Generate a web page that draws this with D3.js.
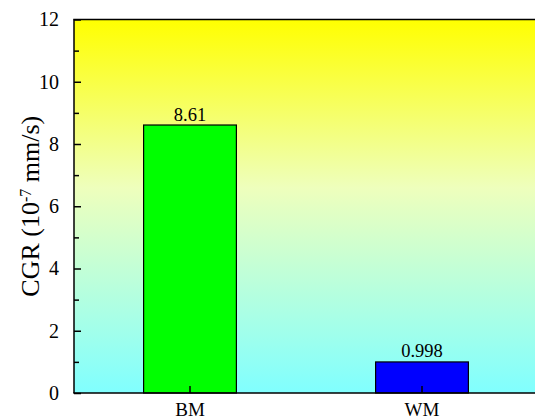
<!DOCTYPE html>
<html><head><meta charset="utf-8">
<script src="https://cdn.jsdelivr.net/npm/d3@7"></script>
<style>body{margin:0;background:#fff}svg{display:block}
svg text{font-family:"Liberation Serif","Times New Roman",Times,serif !important;fill:#000}</style>
</head><body>
<script>
const categories = ["BM", "WM"];
const values = [8.61, 0.998];
const valueLabels = ["8.61", "0.998"];
const barColors = ["#00ff00", "#0000ff"];
const yTicks = [0, 2, 4, 6, 8, 10, 12];
const yMinorTicks = [1, 3, 5, 7, 9, 11];

const W = 535, H = 419;
const m = {left: 74, top: 19.5, right: -3, bottom: 26};
const svg = d3.select("body").append("svg").attr("width", W).attr("height", H);
const x = d3.scaleBand().domain(categories).range([m.left, W - m.right]).paddingInner(0.6).paddingOuter(0.3);
const y = d3.scaleLinear().domain([0, 12]).range([H - m.bottom, m.top]);

const defs = svg.append("defs");
const g = defs.append("linearGradient").attr("id", "bg").attr("x1", 0).attr("y1", 0).attr("x2", 0).attr("y2", 1);
g.append("stop").attr("offset", "0%").attr("stop-color", "#ffff00");
g.append("stop").attr("offset", "45%").attr("stop-color", "#eeffbc");
g.append("stop").attr("offset", "100%").attr("stop-color", "#80ffff");

svg.append("rect").attr("x", m.left).attr("y", y(12)).attr("width", W - m.right - m.left)
  .attr("height", y(0) - y(12)).attr("fill", "url(#bg)");

svg.selectAll(".bar").data(values).enter().append("rect")
  .attr("x", (d, i) => x(categories[i])).attr("width", x.bandwidth())
  .attr("y", d => y(d)).attr("height", d => y(0) - y(d))
  .attr("fill", (d, i) => barColors[i]).attr("stroke", "#000").attr("stroke-width", 1.2);

svg.selectAll(".vl").data(values).enter().append("text")
  .attr("x", (d, i) => x(categories[i]) + x.bandwidth() / 2).attr("y", d => y(d) - 4.5)
  .attr("text-anchor", "middle").attr("font-size", 18.5)
  .text((d, i) => valueLabels[i]);

// axes
const yAxis = d3.axisLeft(y).tickValues(yTicks).tickSize(-7).tickPadding(15);
const ya = svg.append("g").attr("transform", `translate(${m.left},0)`).call(yAxis);
ya.select(".domain").remove();
ya.selectAll("line").attr("stroke", "#000").attr("stroke-width", 1.5);
ya.selectAll("text").attr("font-size", 20);
svg.append("g").attr("transform", `translate(${m.left},0)`)
  .call(d3.axisLeft(y).tickValues(yMinorTicks).tickSize(-5).tickFormat(""))
  .call(s => s.select(".domain").remove())
  .selectAll("line").attr("stroke", "#000").attr("stroke-width", 1.5);

const xAxis = d3.axisBottom(x).tickSize(-7).tickPadding(10);
const xa = svg.append("g").attr("transform", `translate(0,${y(0)})`).call(xAxis);
xa.select(".domain").remove();
xa.selectAll("line").attr("stroke", "#000").attr("stroke-width", 1.5);
xa.selectAll("text").attr("font-size", 19);

// frame lines
svg.append("line").attr("x1", m.left).attr("x2", m.left).attr("y1", y(12)).attr("y2", y(0)).attr("stroke", "#000").attr("stroke-width", 1.5);
svg.append("line").attr("x1", m.left - 0.75).attr("x2", W).attr("y1", y(0)).attr("y2", y(0)).attr("stroke", "#000").attr("stroke-width", 1.5);
svg.append("line").attr("x1", m.left - 0.75).attr("x2", W).attr("y1", y(12)).attr("y2", y(12)).attr("stroke", "#000").attr("stroke-width", 1.5);

// y label
const lab = svg.append("text").attr("transform", `translate(39,${(y(0) + y(12)) / 2}) rotate(-90)`)
  .attr("text-anchor", "middle").attr("font-size", 26);
lab.append("tspan").text("CGR (10");
lab.append("tspan").attr("baseline-shift", "super").attr("font-size", 16).text("-7");
lab.append("tspan").text(" mm/s)");
</script>
</body></html>
